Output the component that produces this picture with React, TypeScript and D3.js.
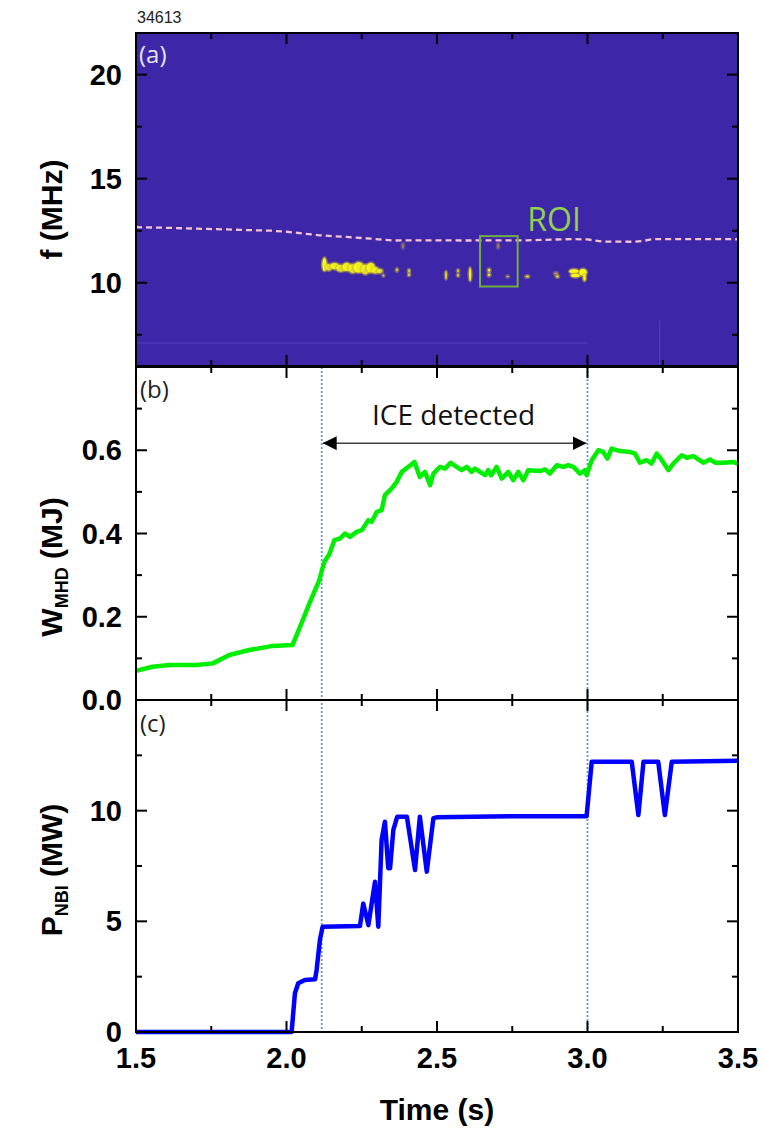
import React from "react";
import * as d3 from "d3";

const shotLabel = "34613";
const xMajorTicks = [1.5, 2.0, 2.5, 3.0, 3.5];
const xMinorTicks = [1.75, 2.25, 2.75, 3.25];
const fMajorTicks = [10, 15, 20];
const fMinorTicks = [7.5, 12.5, 17.5];
const wMajorTicks = [0, 0.2, 0.4, 0.6];
const wMinorTicks = [0.1, 0.3, 0.5, 0.7];
const pMajorTicks = [0, 5, 10];
const pMinorTicks = [2.5, 7.5, 12.5];

// cyclotron frequency (dashed pink line)
const cycTime = [1.5, 1.6, 1.7, 1.8, 1.845, 1.95, 2.0, 2.045, 2.11, 2.2, 2.28, 2.35, 2.45, 2.6, 2.8, 2.95, 3.0, 3.05, 3.15, 3.18, 3.22, 3.35, 3.5];
const cycFreq = [12.67, 12.64, 12.6, 12.56, 12.54, 12.5, 12.45, 12.38, 12.28, 12.2, 12.12, 12.03, 12.04, 12.03, 12.04, 12.1, 12.08, 11.98, 11.97, 12.0, 12.1, 12.1, 12.09];

// ICE emission features in spectrogram
const blobTime = [2.126, 2.14, 2.16, 2.18, 2.2, 2.22, 2.24, 2.262, 2.28, 2.295, 2.31, 2.322,
  2.367, 2.407, 2.407, 2.387, 2.53, 2.57, 2.57, 2.61, 2.673, 2.673, 2.703, 2.735, 2.8, 2.895, 2.9,
  2.955, 2.96, 2.985, 2.99];
const blobFreq = [10.88, 10.74, 10.8, 10.7, 10.76, 10.68, 10.74, 10.64, 10.72, 10.6, 10.56, 10.35,
  10.61, 10.58, 10.38, 11.77, 10.36, 10.58, 10.36, 10.4, 10.6, 10.38, 11.77, 10.3, 10.3, 10.45, 10.3,
  10.55, 10.35, 10.5, 10.25];
const blobHalfT = [0.007, 0.01, 0.014, 0.014, 0.014, 0.014, 0.017, 0.014, 0.014, 0.011, 0.009, 0.003,
  0.003, 0.003, 0.003, 0.003, 0.003, 0.003, 0.003, 0.004, 0.004, 0.004, 0.003, 0.004, 0.006, 0.006, 0.005,
  0.015, 0.015, 0.012, 0.004];
const blobHalfF = [0.32, 0.16, 0.15, 0.17, 0.2, 0.22, 0.26, 0.24, 0.24, 0.16, 0.1, 0.05,
  0.07, 0.06, 0.06, 0.12, 0.2, 0.06, 0.06, 0.33, 0.07, 0.07, 0.12, 0.04, 0.05, 0.05, 0.05,
  0.1, 0.08, 0.16, 0.16];
const blobBright = [1, 0.8, 0.9, 0.8, 0.9, 0.8, 0.9, 0.8, 0.9, 0.8, 0.8, 0.7,
  0.8, 0.9, 0.9, 0.5, 0.8, 0.8, 0.8, 0.9, 0.9, 0.9, 0.5, 0.7, 0.8, 0.6, 0.8,
  1, 1, 1, 1];

// faint background streaks
const streakT0 = [1.5, 3.24];
const streakT1 = [3.0, 3.24];
const streakF0 = [7.1, 6.0];
const streakF1 = [7.1, 8.2];

// stored energy
const wTime = [1.5, 1.555, 1.611, 1.7, 1.755, 1.81, 1.876, 1.954, 2.02, 2.054, 2.076, 2.109, 2.117, 2.126, 2.142, 2.159,
  2.178, 2.194, 2.211, 2.233, 2.25, 2.272, 2.283, 2.3, 2.316, 2.327, 2.349, 2.366, 2.383, 2.405, 2.425, 2.443, 2.46,
  2.477, 2.488, 2.51, 2.527, 2.545, 2.565, 2.582, 2.599, 2.615, 2.626, 2.643, 2.66, 2.67, 2.68, 2.698, 2.715, 2.737,
  2.753, 2.77, 2.787, 2.803, 2.842, 2.859, 2.875, 2.898, 2.92, 2.936, 2.953, 2.975, 2.992, 2.997, 3.014, 3.036, 3.052,
  3.066, 3.08, 3.108, 3.141, 3.158, 3.174, 3.197, 3.213, 3.23, 3.247, 3.269, 3.285, 3.313, 3.33, 3.352, 3.385, 3.407,
  3.424, 3.452, 3.485, 3.5];
const wValue = [0.07, 0.08, 0.084, 0.084, 0.088, 0.108, 0.12, 0.13, 0.132, 0.192, 0.232, 0.288, 0.31, 0.332, 0.35, 0.384,
  0.388, 0.4, 0.392, 0.404, 0.408, 0.432, 0.428, 0.452, 0.456, 0.492, 0.508, 0.524, 0.548, 0.56, 0.572, 0.536, 0.548,
  0.516, 0.544, 0.56, 0.556, 0.57, 0.56, 0.552, 0.56, 0.548, 0.556, 0.548, 0.54, 0.552, 0.54, 0.56, 0.532, 0.548,
  0.528, 0.548, 0.528, 0.552, 0.55, 0.554, 0.544, 0.564, 0.56, 0.564, 0.56, 0.544, 0.552, 0.54, 0.576, 0.6, 0.596,
  0.58, 0.604, 0.598, 0.596, 0.592, 0.57, 0.576, 0.568, 0.592, 0.576, 0.552, 0.568, 0.588, 0.582, 0.586, 0.57, 0.578,
  0.57, 0.57, 0.572, 0.567];

// NBI power
const pTime = [1.5, 2.017, 2.028, 2.039, 2.061, 2.095, 2.1, 2.111, 2.12, 2.244, 2.255, 2.272, 2.294, 2.305, 2.316, 2.327,
  2.338, 2.344, 2.355, 2.368, 2.4, 2.427, 2.443, 2.466, 2.488, 2.499, 2.75, 2.997, 3.014, 3.147, 3.169, 3.186, 3.235,
  3.257, 3.28, 3.5];
const pValue = [0, 0, 1.75, 2.2, 2.35, 2.38, 2.8, 4.16, 4.76, 4.79, 5.8, 4.83, 6.79, 4.76, 8.68, 9.5,
  7.4, 7.4, 9.13, 9.73, 9.73, 7.32, 9.73, 7.24, 9.66, 9.7, 9.75, 9.75, 12.21, 12.21, 9.8, 12.21, 12.21,
  9.8, 12.21, 12.26];

const iceStart = 2.117;
const iceEnd = 3.0;
const iceArrowW = 0.617;
const iceLabel = "ICE detected";
const roiTime = [2.643, 2.768];
const roiFreq = [9.82, 12.24];
const roiLabel = "ROI";

const L = 136, R = 738;
const x = d3.scaleLinear().domain([1.5, 3.5]).range([L, R]);
const ya = d3.scaleLinear().domain([6, 22]).range([366, 33]);
const yb = d3.scaleLinear().domain([0, 0.8]).range([700, 367]);
const yc = d3.scaleLinear().domain([0, 15]).range([1032, 700]);

const numFont = "'Liberation Sans', Arial, sans-serif";
const noteFont = "'Open Sans', 'Noto Sans', sans-serif";

function Frame({ y, major, minor }: { y: any; major: number[]; minor: number[] }) {
  const [y0, y1] = y.range();
  const top = Math.min(y0, y1), bot = Math.max(y0, y1);
  const M = 11, m = 6;
  const els: any[] = [];
  xMajorTicks.forEach((t, i) => {
    els.push(<line key={"xt" + i} x1={x(t)} x2={x(t)} y1={top} y2={top + M} />);
    els.push(<line key={"xb" + i} x1={x(t)} x2={x(t)} y1={bot} y2={bot - M} />);
  });
  xMinorTicks.forEach((t, i) => {
    els.push(<line key={"xmt" + i} x1={x(t)} x2={x(t)} y1={top} y2={top + m} />);
    els.push(<line key={"xmb" + i} x1={x(t)} x2={x(t)} y1={bot} y2={bot - m} />);
  });
  major.forEach((v, i) => {
    els.push(<line key={"yl" + i} x1={L} x2={L + M} y1={y(v)} y2={y(v)} />);
    els.push(<line key={"yr" + i} x1={R} x2={R - M} y1={y(v)} y2={y(v)} />);
  });
  minor.forEach((v, i) => {
    els.push(<line key={"yml" + i} x1={L} x2={L + m} y1={y(v)} y2={y(v)} />);
    els.push(<line key={"ymr" + i} x1={R} x2={R - m} y1={y(v)} y2={y(v)} />);
  });
  return (
    <g stroke="#000" strokeWidth={2} fill="none">
      {els}
      <rect x={L} y={top} width={R - L} height={bot - top} />
    </g>
  );
}

function YLabels({ y, values, fmt }: { y: any; values: number[]; fmt: (v: number) => string }) {
  return (
    <g fontFamily={numFont} fontWeight="bold" fontSize={29} textAnchor="end">
      {values.map((v, i) => (
        <text key={i} x={122} y={y(v) + 10}>{fmt(v)}</text>
      ))}
    </g>
  );
}

export default function App() {
  const cycLine = d3.line<number>().x((_, i) => x(cycTime[i])).y((_, i) => ya(cycFreq[i]))(cycTime.map((_, i) => i));
  const wLine = d3.line<number>().x((_, i) => x(wTime[i])).y((_, i) => yb(wValue[i]))(wTime.map((_, i) => i));
  const pLine = d3.line<number>().x((_, i) => x(pTime[i])).y((_, i) => yc(pValue[i]))(pTime.map((_, i) => i));

  return (
    <div style={{ position: "absolute", left: 0, top: 0 }}>
      <svg width={764} height={1131} viewBox="0 0 764 1131" style={{ display: "block", background: "#fff" }}>
        <defs>
          <marker id="ah" viewBox="0 0 10 10" refX="10" refY="5" markerWidth="14" markerHeight="14" markerUnits="userSpaceOnUse" orient="auto-start-reverse">
            <path d="M0,0 L10,5 L0,10 z" fill="#000" />
          </marker>
        </defs>
        <text x={137} y={23} fontFamily={numFont} fontSize={16} fill="#222">{shotLabel}</text>

        {/* panel a spectrogram */}
        <rect x={L} y={ya(22)} width={R - L} height={ya(6) - ya(22)} fill="#3e26a8" />
        {streakT0.map((t, i) => (
          <line key={"s" + i} x1={x(t)} x2={x(streakT1[i])} y1={ya(streakF0[i])} y2={ya(streakF1[i])}
            stroke="#5646c8" strokeWidth={1.5} opacity={0.6} />
        ))}
        <path d={cycLine || ""} fill="none" stroke="#f6c4cf" strokeWidth={2.3} strokeDasharray="6 4" />
        {blobTime.map((t, i) => {
          const cx = x(t), cy = ya(blobFreq[i]);
          const rx = x(t + blobHalfT[i]) - cx;
          const ry = ya(blobFreq[i] - blobHalfF[i]) - cy;
          return (
            <g key={"b" + i}>
              <ellipse cx={cx} cy={cy} rx={rx + 1.5} ry={ry + 1.5} fill="#c9b43a" opacity={0.55 * blobBright[i]} />
              <ellipse cx={cx} cy={cy} rx={rx} ry={ry} fill={blobBright[i] > 0.6 ? "#f9fb15" : "#e3b43a"} opacity={blobBright[i]} />
            </g>
          );
        })}
        <rect x={x(roiTime[0])} y={ya(roiFreq[1])} width={x(roiTime[1]) - x(roiTime[0])} height={ya(roiFreq[0]) - ya(roiFreq[1])}
          fill="none" stroke="#6fae45" strokeWidth={2} />
        <text x={x(2.8)} y={ya(12.48)} fontFamily={noteFont} fontSize={32} fill="#92d050">{roiLabel}</text>
        <text x={139} y={63} fontFamily={noteFont} fontSize={24} fill="#e6e6f0">(a)</text>
        <Frame y={ya} major={fMajorTicks} minor={fMinorTicks} />
        <YLabels y={ya} values={fMajorTicks} fmt={(v) => String(v)} />

        {/* dotted markers */}
        {[iceStart, iceEnd].map((t, i) => (
          <line key={"v" + i} x1={x(t)} x2={x(t)} y1={yb(0.8)} y2={yc(0)} stroke="#5b9bd5" strokeWidth={1.8} strokeDasharray="2 2" />
        ))}

        {/* panel b */}
        <line x1={x(iceStart) + 1} x2={x(iceEnd) - 1} y1={yb(iceArrowW)} y2={yb(iceArrowW)} stroke="#404040" strokeWidth={1.5}
          markerStart="url(#ah)" markerEnd="url(#ah)" />
        <text x={x(2.555)} y={yb(0.66)} textAnchor="middle" fontFamily={noteFont} fontSize={28} fill="#111">{iceLabel}</text>
        <path d={wLine || ""} fill="none" stroke="#00ee00" strokeWidth={4.5} strokeLinejoin="round" />
        <text x={140} y={398} fontFamily={noteFont} fontSize={24} fill="#222">(b)</text>
        <Frame y={yb} major={wMajorTicks} minor={wMinorTicks} />
        <YLabels y={yb} values={wMajorTicks} fmt={(v) => v.toFixed(1)} />

        {/* panel c */}
        <path d={pLine || ""} fill="none" stroke="#0000ff" strokeWidth={4.5} strokeLinejoin="round" />
        <text x={140} y={732} fontFamily={noteFont} fontSize={24} fill="#222">(c)</text>
        <Frame y={yc} major={pMajorTicks} minor={pMinorTicks} />
        <YLabels y={yc} values={pMajorTicks} fmt={(v) => String(v)} />

        {/* x tick labels */}
        <g fontFamily={numFont} fontWeight="bold" fontSize={29} textAnchor="middle">
          {xMajorTicks.map((t, i) => (
            <text key={i} x={x(t)} y={1068}>{t.toFixed(1)}</text>
          ))}
        </g>
        <text x={437} y={1120} textAnchor="middle" fontFamily={numFont} fontWeight="bold" fontSize={30}>Time (s)</text>

        {/* y axis titles */}
        <g fontFamily={numFont} fontWeight="bold" fontSize={30} textAnchor="middle">
          <text transform={`translate(62,${(ya(6) + ya(22)) / 2 + 10}) rotate(-90)`}>f (MHz)</text>
          <text transform={`translate(62,567) rotate(-90)`}>
            <tspan>W</tspan>
            <tspan fontSize={18} dy={6}>MHD</tspan>
            <tspan dy={-6}> (MJ)</tspan>
          </text>
          <text transform={`translate(62,870) rotate(-90)`}>
            <tspan>P</tspan>
            <tspan fontSize={18} dy={6}>NBI</tspan>
            <tspan dy={-6}> (MW)</tspan>
          </text>
        </g>
      </svg>
    </div>
  );
}
